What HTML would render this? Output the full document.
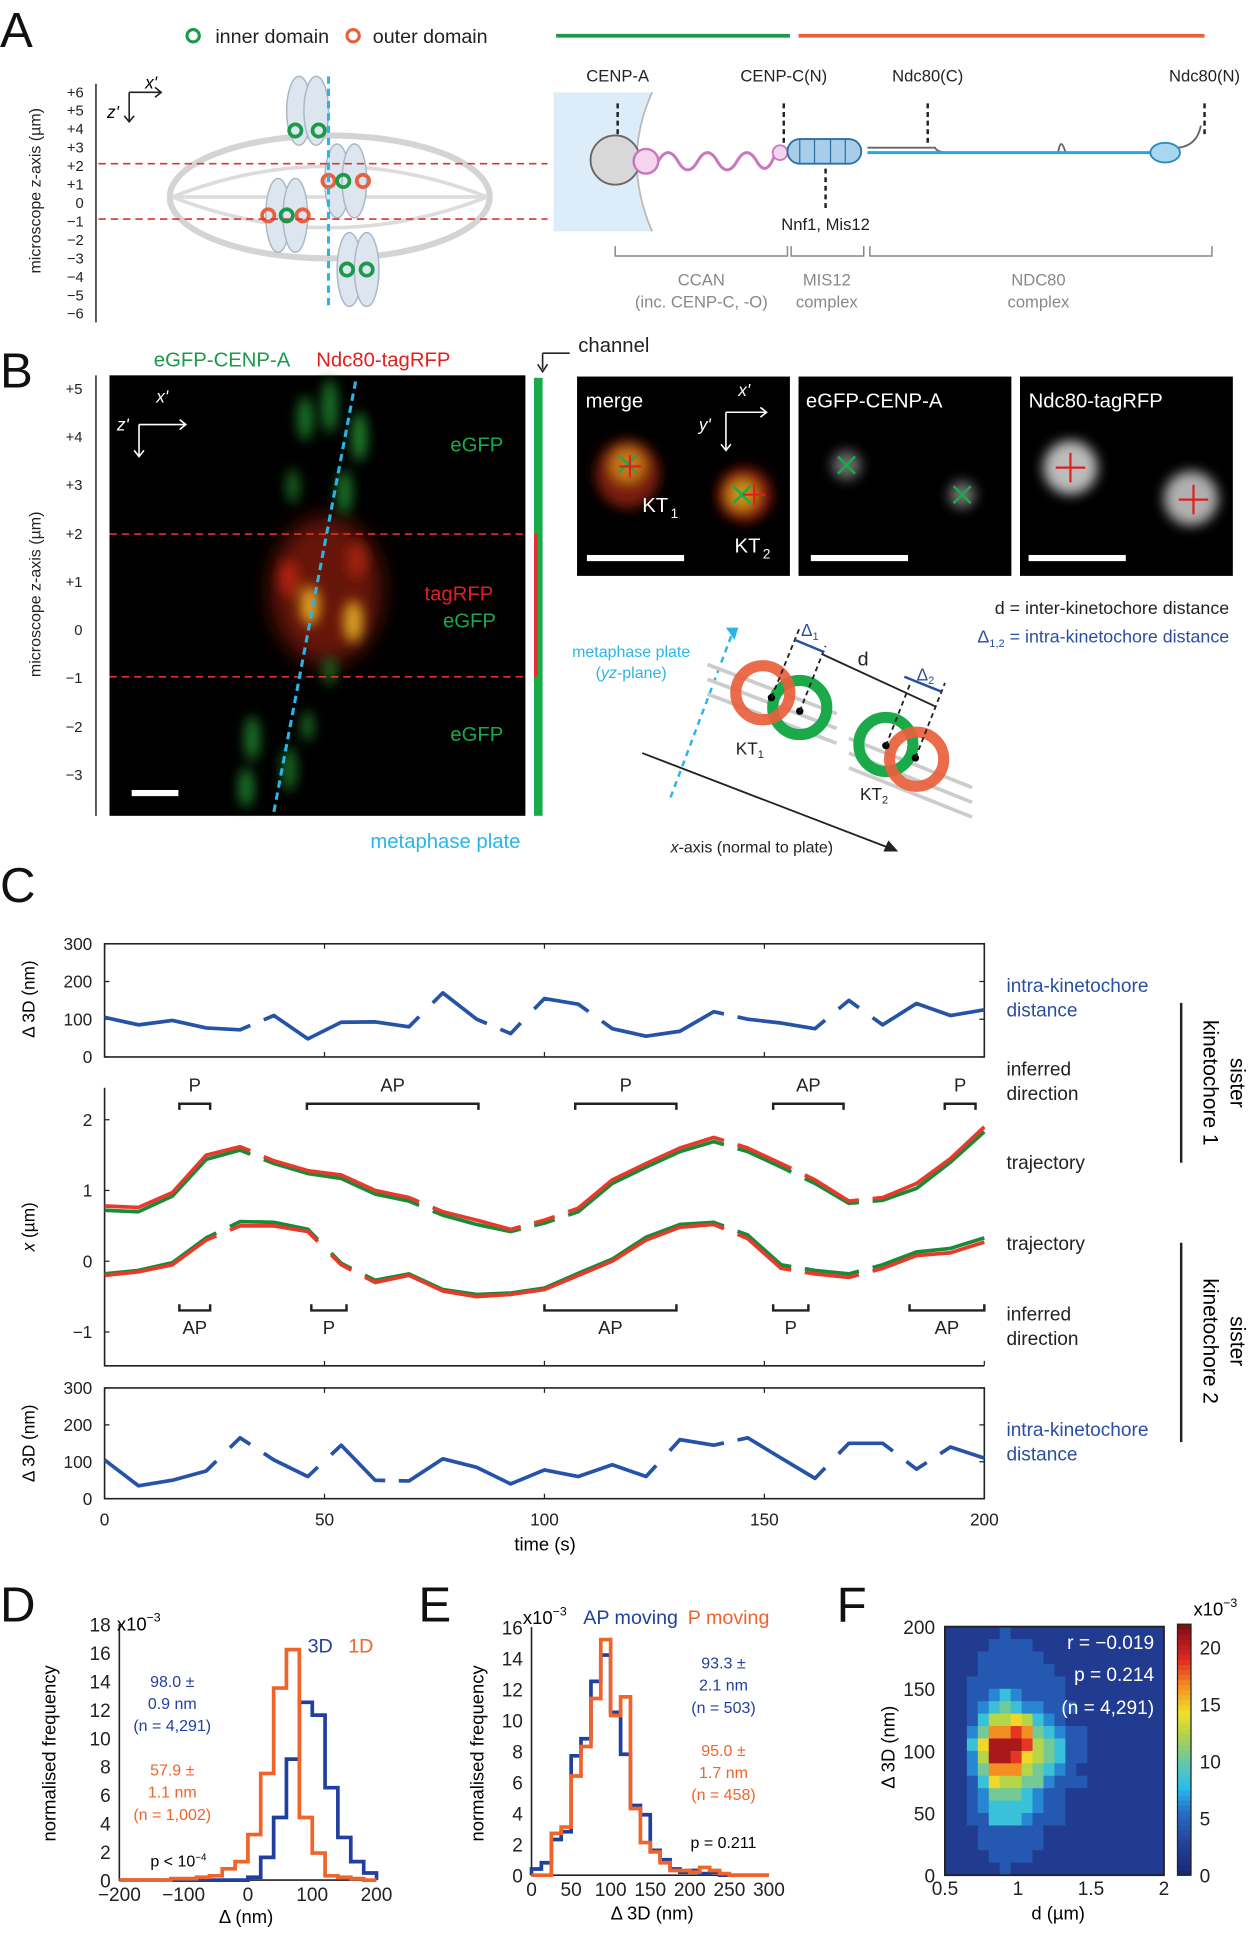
<!DOCTYPE html>
<html><head><meta charset="utf-8"><style>
html,body{margin:0;padding:0;background:#fff}
svg{display:block}
text{font-family:"Liberation Sans",sans-serif}
</style></head><body>
<svg id="fig" xmlns="http://www.w3.org/2000/svg" width="1255" height="1938" viewBox="0 0 1020 1575">
<defs>
<filter id="blur4" x="-50%" y="-50%" width="200%" height="200%"><feGaussianBlur stdDeviation="5"/></filter>
<filter id="blur8" x="-50%" y="-50%" width="200%" height="200%"><feGaussianBlur stdDeviation="9"/></filter>
</defs>
<rect width="1020" height="1575" fill="#fff"/>
<g font-size="40" fill="#111">
<text x="0" y="38">A</text><text x="0" y="315">B</text><text x="0" y="733">C</text>
<text x="0" y="1318">D</text><text x="340" y="1318">E</text><text x="680" y="1318">F</text>
</g>

<g>
<circle cx="157" cy="29" r="5" fill="none" stroke="#1a9a4a" stroke-width="2.5"/>
<text x="175" y="35" font-size="16" fill="#222">inner domain</text>
<circle cx="287" cy="29" r="5" fill="none" stroke="#e8603c" stroke-width="2.5"/>
<text x="303" y="35" font-size="16" fill="#222">outer domain</text>
<text x="33" y="155" font-size="13" fill="#222" text-anchor="middle" transform="rotate(-90 33 155)">microscope z-axis (µm)</text>
<line x1="78" y1="68" x2="78" y2="262" stroke="#222" stroke-width="1.2"/>
<g font-size="12" fill="#222" text-anchor="end">
<text x="68" y="79">+6</text><text x="68" y="94">+5</text><text x="68" y="109">+4</text><text x="68" y="124">+3</text><text x="68" y="139">+2</text><text x="68" y="154">+1</text><text x="68" y="169">0</text><text x="68" y="184">−1</text><text x="68" y="199">−2</text><text x="68" y="214">−3</text><text x="68" y="229">−4</text><text x="68" y="244">−5</text><text x="68" y="259">−6</text>
</g>
<path d="M105 75 H130 M126 71 L131 75 L126 79 M105 75 V98 M101 94 L105 99 L109 94" stroke="#222" stroke-width="1.3" fill="none"/>
<text x="118" y="72" font-size="14" font-style="italic">x'</text><text x="87" y="96" font-size="14" font-style="italic">z'</text>
<ellipse cx="268" cy="160" rx="130" ry="50" fill="none" stroke="#d4d4d4" stroke-width="5"/>
<path d="M140 160 Q268 110 396 160 M140 160 Q268 210 396 160 M140 160 H396" fill="none" stroke="#dcdcdc" stroke-width="3"/>
<g fill="#dde6ef" stroke="#a9b8c7" stroke-width="1.2">
<ellipse cx="243" cy="90" rx="10" ry="28"/><ellipse cx="257" cy="90" rx="10" ry="28"/>
<ellipse cx="274" cy="147" rx="10" ry="30"/><ellipse cx="288" cy="147" rx="10" ry="30"/>
<ellipse cx="226" cy="175" rx="10" ry="30"/><ellipse cx="240" cy="175" rx="10" ry="30"/>
<ellipse cx="284" cy="219" rx="10" ry="30"/><ellipse cx="298" cy="219" rx="10" ry="30"/>
</g>
<g fill="none" stroke-width="3">
<circle cx="240" cy="106" r="5" stroke="#1a9a4a"/><circle cx="259" cy="106" r="5" stroke="#1a9a4a"/>
<circle cx="267" cy="147" r="5" stroke="#e8603c"/><circle cx="279" cy="147" r="5" stroke="#1a9a4a"/><circle cx="295" cy="147" r="5" stroke="#e8603c"/>
<circle cx="218" cy="175" r="5" stroke="#e8603c"/><circle cx="233" cy="175" r="5" stroke="#1a9a4a"/><circle cx="246" cy="175" r="5" stroke="#e8603c"/>
<circle cx="282" cy="219" r="5" stroke="#1a9a4a"/><circle cx="298" cy="219" r="5" stroke="#1a9a4a"/>
</g>
<line x1="80" y1="133" x2="445" y2="133" stroke="#e03030" stroke-width="1.3" stroke-dasharray="6 4"/>
<line x1="80" y1="178" x2="445" y2="178" stroke="#e03030" stroke-width="1.3" stroke-dasharray="6 4"/>
<line x1="267" y1="62" x2="267" y2="252" stroke="#29b6e6" stroke-width="2.5" stroke-dasharray="6 4"/>
</g>

<g>
<line x1="452" y1="29" x2="642" y2="29" stroke="#1a9a4a" stroke-width="3"/>
<line x1="649" y1="29" x2="979" y2="29" stroke="#e8603c" stroke-width="3"/>
<g font-size="13.5" fill="#222" text-anchor="middle">
<text x="502" y="66">CENP-A</text><text x="637" y="66">CENP-C(N)</text><text x="754" y="66">Ndc80(C)</text><text x="979" y="66">Ndc80(N)</text><text x="671" y="187">Nnf1, Mis12</text>
</g>
<path d="M450 75 H530 Q505 130 530 188 H450 Z" fill="#dcecf8"/>
<path d="M530 75 Q505 130 530 188" fill="none" stroke="#bbb" stroke-width="1.5"/>
<circle cx="500" cy="130" r="20" fill="#d8d8d8" stroke="#666" stroke-width="1.5"/>
<circle cx="525" cy="131" r="10" fill="#f3d6ee" stroke="#c878be" stroke-width="2"/>
<path d="M535 131 q8 -14 16 0 t16 0 t16 0 t16 0 t16 0 t15 -6" fill="none" stroke="#c878be" stroke-width="2.5"/>
<circle cx="634" cy="124" r="6" fill="#f3d6ee" stroke="#c878be" stroke-width="1.5"/>
<rect x="640" y="113" width="60" height="20" rx="10" fill="#a8cde8" stroke="#2a6fa8" stroke-width="1.5"/>
<path d="M650 113 v20 M662 113 v20 M675 113 v20 M687 113 v20" stroke="#2a6fa8" stroke-width="1"/>
<path d="M705 120 H760 Q762 124 770 124 H860 q2 -14 6 0 H945" fill="none" stroke="#666" stroke-width="1.5"/>
<path d="M705 124 H945" stroke="#27a7df" stroke-width="2.5"/>
<ellipse cx="947" cy="124" rx="12" ry="8" fill="#a8d8f0" stroke="#2a8ac0" stroke-width="1.5"/>
<path d="M958 120 q15 -2 18 -18" fill="none" stroke="#666" stroke-width="1.5"/>
<g stroke="#222" stroke-width="2" stroke-dasharray="4 3"><line x1="502" y1="84" x2="502" y2="112"/><line x1="637" y1="84" x2="637" y2="118"/><line x1="754" y1="84" x2="754" y2="118"/><line x1="979" y1="84" x2="979" y2="112"/><line x1="671" y1="137" x2="671" y2="170"/></g>
<path d="M500 200 v8 H640 v-8 M643 200 v8 H702 v-8 M707 200 v8 H985 v-8" fill="none" stroke="#888" stroke-width="1.2"/>
<g font-size="13.5" fill="#888" text-anchor="middle">
<text x="570" y="232">CCAN</text><text x="570" y="250">(inc. CENP-C, -O)</text>
<text x="672" y="232">MIS12</text><text x="672" y="250">complex</text>
<text x="844" y="232">NDC80</text><text x="844" y="250">complex</text>
</g>
</g>

<g>
<text x="125" y="298" font-size="16.5" fill="#1a9a4a">eGFP-CENP-A</text>
<text x="257" y="298" font-size="16.5" fill="#e02020">Ndc80-tagRFP</text>
<text x="33" y="483" font-size="13" fill="#222" text-anchor="middle" transform="rotate(-90 33 483)">microscope z-axis (µm)</text>
<line x1="78" y1="305" x2="78" y2="663" stroke="#222" stroke-width="1.2"/>
<g font-size="12" fill="#222" text-anchor="end">
<text x="67" y="320">+5</text><text x="67" y="359">+4</text><text x="67" y="398">+3</text><text x="67" y="438">+2</text><text x="67" y="477">+1</text><text x="67" y="516">0</text><text x="67" y="555">−1</text><text x="67" y="595">−2</text><text x="67" y="634">−3</text>
</g>
<rect x="89" y="305" width="338" height="358" fill="#000"/>
<g filter="url(#blur8)" opacity="0.75">
<ellipse cx="265" cy="480" rx="45" ry="60" fill="#8a1a0a"/>
</g>
<g filter="url(#blur4)">
<ellipse cx="248" cy="340" rx="6" ry="18" fill="#1f7a2a"/><ellipse cx="268" cy="330" rx="6" ry="22" fill="#1f7a2a"/><ellipse cx="292" cy="355" rx="6" ry="20" fill="#22862e"/>
<ellipse cx="238" cy="395" rx="5" ry="14" fill="#1a6a24"/><ellipse cx="280" cy="400" rx="6" ry="18" fill="#1f7a2a"/>
<ellipse cx="252" cy="492" rx="8" ry="16" fill="#e0a020"/><ellipse cx="287" cy="505" rx="8" ry="17" fill="#d8a020"/>
<ellipse cx="235" cy="470" rx="8" ry="15" fill="#b02010"/><ellipse cx="290" cy="455" rx="8" ry="15" fill="#a02010"/>
<ellipse cx="268" cy="545" rx="5" ry="12" fill="#1a6a24"/>
<ellipse cx="205" cy="600" rx="6" ry="18" fill="#1f7a2a"/><ellipse cx="200" cy="640" rx="6" ry="16" fill="#1f7a2a"/><ellipse cx="235" cy="625" rx="6" ry="18" fill="#1a6a24"/><ellipse cx="250" cy="590" rx="5" ry="12" fill="#1a6a24"/>
</g>
<line x1="89" y1="434" x2="427" y2="434" stroke="#e03030" stroke-width="1.3" stroke-dasharray="6 4"/>
<line x1="89" y1="550" x2="427" y2="550" stroke="#e03030" stroke-width="1.3" stroke-dasharray="6 4"/>
<line x1="289" y1="310" x2="222" y2="663" stroke="#29b6e6" stroke-width="2.5" stroke-dasharray="6 4"/>
<path d="M113 345 H150 M146 341 L151 345 L146 349 M113 345 V370 M109 366 L113 371 L117 366" stroke="#fff" stroke-width="1.3" fill="none"/>
<text x="127" y="327" font-size="14" font-style="italic" fill="#fff">x'</text><text x="95" y="350" font-size="14" font-style="italic" fill="#fff">z'</text>
<g font-size="16.5"><text x="366" y="367" fill="#1aaa4a">eGFP</text><text x="345" y="488" fill="#e02020">tagRFP</text><text x="360" y="510" fill="#1aaa4a">eGFP</text><text x="366" y="602" fill="#1aaa4a">eGFP</text></g>
<rect x="107" y="642" width="38" height="5" fill="#fff"/>
<rect x="434" y="307" width="7" height="356" fill="#1aaa4a"/>
<rect x="434" y="434" width="3" height="116" fill="#e03030"/>
<path d="M441 287 H463 M441 287 V300 M437 296 L441 302 L445 296" stroke="#222" stroke-width="1.3" fill="none"/>
<text x="470" y="286" font-size="16.5" fill="#222">channel</text>
<text x="362" y="689" font-size="16.5" fill="#29b6e6" text-anchor="middle">metaphase plate</text>
</g>

<g>
<rect x="469" y="306" width="173" height="162" fill="#000"/>
<rect x="649" y="306" width="173" height="162" fill="#000"/>
<rect x="829" y="306" width="173" height="162" fill="#000"/>
<g filter="url(#blur4)">
<ellipse cx="510" cy="385" rx="26" ry="28" fill="#7a1a0a"/><ellipse cx="510" cy="378" rx="14" ry="14" fill="#c87818"/>
<ellipse cx="605" cy="402" rx="22" ry="22" fill="#901a0a"/><ellipse cx="603" cy="402" rx="12" ry="12" fill="#c89018"/>
<ellipse cx="688" cy="378" rx="12" ry="12" fill="#6a6a6a"/><ellipse cx="782" cy="402" rx="11" ry="11" fill="#707070"/>
<ellipse cx="870" cy="380" rx="22" ry="22" fill="#bcbcbc"/><ellipse cx="968" cy="405" rx="22" ry="22" fill="#b0b0b0"/>
</g>
<g stroke="#1aaa4a" stroke-width="2"><path d="M503 370 l14 14 M517 370 l-14 14 M596 395 l14 14 M610 395 l-14 14 M681 371 l14 14 M695 371 l-14 14 M775 395 l14 14 M789 395 l-14 14"/></g>
<g stroke="#e02020" stroke-width="1.8"><path d="M512 370 v18 M503 379 h18 M613 393 v18 M604 402 h18 M870 368 v24 M858 380 h24 M970 394 v24 M958 406 h24"/></g>
<g font-size="16.5" fill="#fff"><text x="476" y="331">merge</text><text x="655" y="331">eGFP-CENP-A</text><text x="836" y="331">Ndc80-tagRFP</text>
<text x="522" y="416">KT</text><text x="545" y="421" font-size="11">1</text><text x="597" y="449">KT</text><text x="620" y="454" font-size="11">2</text></g>
<path d="M590 335 H622 M618 331 L623 335 L618 339 M590 335 V365 M586 361 L590 366 L594 361" stroke="#fff" stroke-width="1.3" fill="none"/>
<text x="600" y="322" font-size="14" font-style="italic" fill="#fff">x'</text><text x="568" y="350" font-size="14" font-style="italic" fill="#fff">y'</text>
<rect x="477" y="451" width="79" height="5" fill="#fff"/><rect x="659" y="451" width="79" height="5" fill="#fff"/><rect x="836" y="451" width="79" height="5" fill="#fff"/>
</g>

<g>
<text x="999" y="499" font-size="14.5" fill="#222" text-anchor="end">d = inter-kinetochore distance</text>
<text x="999" y="522" font-size="14.5" fill="#2a4ea0" text-anchor="end">Δ<tspan font-size="9" dy="4">1,2</tspan><tspan dy="-4"> = intra-kinetochore distance</tspan></text>
<text x="513" y="534" font-size="13" fill="#29b6e6" text-anchor="middle">metaphase plate</text>
<text x="513" y="551" font-size="13" fill="#29b6e6" text-anchor="middle">(<tspan font-style="italic">yz</tspan>-plane)</text>
<line x1="545" y1="648" x2="595" y2="515" stroke="#29b6e6" stroke-width="2" stroke-dasharray="5 4"/>
<path d="M590 510 L600 510 L597 520 Z" fill="#29b6e6"/>
<g stroke="#ccc" stroke-width="3"><line x1="575" y1="540" x2="680" y2="580"/><line x1="575" y1="552" x2="680" y2="592"/><line x1="575" y1="564" x2="680" y2="604"/><line x1="690" y1="600" x2="790" y2="640"/><line x1="690" y1="612" x2="790" y2="652"/><line x1="690" y1="624" x2="790" y2="664"/></g>
<circle cx="650" cy="575" r="22" fill="none" stroke="#1aaa4a" stroke-width="9"/>
<circle cx="620" cy="563" r="22" fill="none" stroke="#e8603c" stroke-width="9" opacity="0.92"/>
<circle cx="720" cy="605" r="22" fill="none" stroke="#1aaa4a" stroke-width="9"/>
<circle cx="745" cy="617" r="22" fill="none" stroke="#e8603c" stroke-width="9" opacity="0.92"/>
<circle cx="650" cy="578" r="3" fill="#000"/><circle cx="627" cy="567" r="3" fill="#000"/><circle cx="720" cy="606" r="3" fill="#000"/><circle cx="744" cy="616" r="3" fill="#000"/>
<path d="M627 567 L650 510 M650 578 L671 525 M720 606 L740 555 M744 616 L768 555" stroke="#222" stroke-width="1.5" stroke-dasharray="4 3"/>
<path d="M646 520 L670 530 M735 550 L765 562" stroke="#2a4ea0" stroke-width="2"/>
<path d="M669 532 L760 574" stroke="#222" stroke-width="1.5"/>
<text x="651" y="517" font-size="14" fill="#2a4ea0">Δ<tspan font-size="9" dy="3">1</tspan></text>
<text x="745" y="553" font-size="14" fill="#2a4ea0">Δ<tspan font-size="9" dy="3">2</tspan></text>
<text x="697" y="541" font-size="16" fill="#222">d</text>
<text x="598" y="613" font-size="14" fill="#222">KT<tspan font-size="9" dy="3">1</tspan></text>
<text x="699" y="650" font-size="14" fill="#222">KT<tspan font-size="9" dy="3">2</tspan></text>
<line x1="522" y1="612" x2="725" y2="690" stroke="#222" stroke-width="1.5"/>
<path d="M730 692 L718 692 L722 683 Z" fill="#222"/>
<text x="545" y="693" font-size="13" fill="#222"><tspan font-style="italic">x</tspan>-axis (normal to plate)</text>
</g>

<g font-size="15.5">
<text x="818" y="806" fill="#2a4ea0">intra-kinetochore</text><text x="818" y="826" fill="#2a4ea0">distance</text>
<text x="818" y="874" fill="#222">inferred</text><text x="818" y="894" fill="#222">direction</text>
<text x="818" y="950" fill="#222">trajectory</text><text x="818" y="1016" fill="#222">trajectory</text>
<text x="818" y="1073" fill="#222">inferred</text><text x="818" y="1093" fill="#222">direction</text>
<text x="818" y="1167" fill="#2a4ea0">intra-kinetochore</text><text x="818" y="1187" fill="#2a4ea0">distance</text>
<line x1="960" y1="815" x2="960" y2="945" stroke="#222" stroke-width="2"/>
<line x1="960" y1="1010" x2="960" y2="1172" stroke="#222" stroke-width="2"/>
<text x="1000" y="880" font-size="17" text-anchor="middle" transform="rotate(90 1000 880)">sister</text>
<text x="978" y="880" font-size="17" text-anchor="middle" transform="rotate(90 978 880)">kinetochore 1</text>
<text x="1000" y="1090" font-size="17" text-anchor="middle" transform="rotate(90 1000 1090)">sister</text>
<text x="978" y="1090" font-size="17" text-anchor="middle" transform="rotate(90 978 1090)">kinetochore 2</text>
<text x="28" y="812" font-size="14" text-anchor="middle" transform="rotate(-90 28 812)">Δ 3D (nm)</text>
<text x="28" y="997" font-size="14" text-anchor="middle" transform="rotate(-90 28 997)"><tspan font-style="italic">x</tspan> (µm)</text>
<text x="28" y="1173" font-size="14" text-anchor="middle" transform="rotate(-90 28 1173)">Δ 3D (nm)</text>
<text x="443" y="1260" font-size="15" text-anchor="middle">time (s)</text>
</g>
<g id="charts"></g>

<g font-size="15">
<text x="95" y="1325" font-size="15">x10<tspan font-size="10" dy="-7">−3</tspan></text>
<text x="250" y="1343" fill="#2040a0" font-size="16">3D</text><text x="283" y="1343" fill="#f0642a" font-size="16">1D</text>
<g font-size="13" text-anchor="middle"><text x="140" y="1371" fill="#2040a0">98.0 ±</text><text x="140" y="1389" fill="#2040a0">0.9 nm</text><text x="140" y="1407" fill="#2040a0">(n = 4,291)</text>
<text x="140" y="1443" fill="#f0642a">57.9 ±</text><text x="140" y="1461" fill="#f0642a">1.1 nm</text><text x="140" y="1479" fill="#f0642a">(n = 1,002)</text>
<text x="145" y="1517">p &lt; 10<tspan font-size="8" dy="-5">−4</tspan></text></g>
<text x="45" y="1425" text-anchor="middle" transform="rotate(-90 45 1425)" font-size="15">normalised frequency</text>
<text x="200" y="1563" text-anchor="middle">Δ (nm)</text>
<text x="425" y="1320" font-size="15">x10<tspan font-size="10" dy="-7">−3</tspan></text>
<text x="474" y="1320" fill="#2040a0" font-size="16">AP moving</text><text x="559" y="1320" fill="#f0642a" font-size="16">P moving</text>
<g font-size="13" text-anchor="middle"><text x="588" y="1356" fill="#2040a0">93.3 ±</text><text x="588" y="1374" fill="#2040a0">2.1 nm</text><text x="588" y="1392" fill="#2040a0">(n = 503)</text>
<text x="588" y="1427" fill="#f0642a">95.0 ±</text><text x="588" y="1445" fill="#f0642a">1.7 nm</text><text x="588" y="1463" fill="#f0642a">(n = 458)</text>
<text x="588" y="1502">p = 0.211</text></g>
<text x="393" y="1425" text-anchor="middle" transform="rotate(-90 393 1425)" font-size="15">normalised frequency</text>
<text x="530" y="1560" text-anchor="middle">Δ 3D (nm)</text>
<text x="727" y="1420" text-anchor="middle" transform="rotate(-90 727 1420)">Δ 3D (nm)</text>
<text x="860" y="1560" text-anchor="middle">d (µm)</text>
<text x="970" y="1313" font-size="15">x10<tspan font-size="10" dy="-7">−3</tspan></text>
</g>
<g id="overlay"></g>
</svg>

<script>
// ---------- Panel C data ----------
const cTimes = [0,7.7,15.4,23.1,30.8,38.5,46.2,53.8,61.5,69.2,76.9,84.6,92.3,100,107.7,115.4,123.1,130.8,138.5,146.2,153.8,161.5,169.2,176.9,184.6,192.3,200];
const cTopDelta = [105,85,97,77,72,110,48,92,93,80,170,100,62,155,140,75,55,68,120,100,90,75,150,85,142,110,125];
const cTopBreaks = [4,9,11,12,14,18,21,22];
const cKt1Red = [0.78,0.76,0.97,1.5,1.62,1.42,1.28,1.22,1.0,0.9,0.7,0.58,0.45,0.58,0.75,1.15,1.38,1.6,1.75,1.6,1.38,1.15,0.85,0.9,1.1,1.45,1.9];
const cKt1Green = [0.72,0.7,0.92,1.44,1.57,1.38,1.24,1.17,0.95,0.85,0.65,0.52,0.42,0.54,0.7,1.1,1.33,1.55,1.69,1.55,1.33,1.1,0.82,0.86,1.03,1.4,1.83];
const cKt1Breaks = [4,9,12,13,18,20,22];
const cKt2Red = [-0.2,-0.15,-0.05,0.3,0.5,0.5,0.42,-0.05,-0.3,-0.2,-0.42,-0.5,-0.47,-0.4,-0.2,0.0,0.3,0.48,0.52,0.32,-0.1,-0.18,-0.23,-0.1,0.08,0.12,0.27];
const cKt2Green = [-0.18,-0.13,-0.02,0.33,0.56,0.55,0.45,-0.03,-0.27,-0.18,-0.4,-0.47,-0.45,-0.38,-0.17,0.03,0.34,0.52,0.55,0.37,-0.05,-0.13,-0.18,-0.05,0.13,0.18,0.33];
const cKt2Breaks = [3,6,7,18,20,22];
const cBotDelta = [105,35,50,75,165,105,60,145,50,48,108,85,40,78,60,92,60,160,145,165,110,55,150,150,80,140,110];
const cBotBreaks = [3,4,6,8,16,18,21,23,24];
const kt1Dir = [["P",17,24],["AP",46,85],["P",107,130],["AP",152,168],["P",191,198]];
const kt2Dir = [["AP",17,24],["P",47,55],["AP",100,130],["P",152,160],["AP",183,200]];
const timeTicks = [0,50,100,150,200];
const deltaTicks = [0,100,200,300];
const xTicks = [-1,0,1,2];
// ---------- Panel D data ----------
const dBinEdges = [-200,-180,-160,-140,-120,-100,-80,-60,-40,-20,0,20,40,60,80,100,120,140,160,180,200];
const d1D = [0,0,0,0,0.1,0.1,0.2,0.3,0.8,1.3,3.2,7.5,13.5,16.2,4.4,1.9,0.3,0.2,0.1,0];
const d3D = [0,0,0,0,0,0,0,0,0,0,0.2,1.6,4.4,8.5,12.5,11.6,6.5,3.0,1.3,0.5];
const dXTicks = [-200,-100,0,100,200];
const dYTicks = [0,2,4,6,8,10,12,14,16,18];
// ---------- Panel E data ----------
const eBinEdges = [0,12.5,25,37.5,50,62.5,75,87.5,100,112.5,125,137.5,150,162.5,175,187.5,200,212.5,225,237.5,250,262.5,275,287.5,300];
const eAP = [0.4,0.8,2.3,2.8,7.7,8.8,12.5,14.2,10.5,7.8,4.5,3.9,1.6,1.0,0.4,0.2,0.3,0.1,0.2,0,0,0,0,0];
const eP = [0,0,2.7,3.1,6.4,8.3,11.4,15.2,10.3,11.5,4.3,2.1,1.5,0.8,0.3,0.3,0.2,0.5,0.3,0.1,0,0,0,0];
const eXTicks = [0,50,100,150,200,250,300];
const eYTicks = [0,2,4,6,8,10,12,14,16];
// ---------- Panel F data ----------
const fRows = [
"00000100000000000000","00001111000000000000","00011111100000000000","00011111110000000000",
"00111111111000000000","00112321111000000000","00123432211100000000","00135565321000000000",
"00247787432110000000","00369998543110000000","00259986543110000000","00247775432100000000",
"00136554421110000000","00124443211000000000","00123333211000000000","00113332111000000000",
"00011111100000000000","00011111100000000000","00001111000000000000","00000100000000000000"];
const fDigitScale = 2.1;
const fBase = 2;
const fXTicks = [0.5,1,1.5,2];
const fYTicks = [0,50,100,150,200];
const fCbTicks = [0,5,10,15,20];

const NS = "http://www.w3.org/2000/svg";
const root = document.getElementById("charts");
function mk(tag, attrs, parent){const e=document.createElementNS(NS,tag);for(const k in attrs)e.setAttribute(k,attrs[k]);(parent||root).appendChild(e);return e;}
function txt(s,x,y,size,anchor,fill,parent){const t=mk("text",{x:x,y:y,"font-size":size,"text-anchor":anchor||"middle",fill:fill||"#222"},parent);t.textContent=s;return t;}

const tx = t => 85 + t*3.575;
const yTop = v => 859 - v*92/300;
const yMid = v => 1025 - v*57.5;
const yBot = v => 1218 - v*90/300;

function brokenLine(xs, ys, breaks, fx, fy, color, width, name){
  const g = mk("g",{});
  
  
  let d="";
  for(let i=0;i<xs.length;i++){
    const px=fx(xs[i]), py=fy(ys[i]);
    if(i===0){ d+=`M${px.toFixed(1)} ${py.toFixed(1)}`; continue; }
    const qx=fx(xs[i-1]), qy=fy(ys[i-1]);
    if(breaks.includes(i-1)){
      d+=` L${(qx+(px-qx)*0.3).toFixed(1)} ${(qy+(py-qy)*0.3).toFixed(1)} M${(qx+(px-qx)*0.7).toFixed(1)} ${(qy+(py-qy)*0.7).toFixed(1)}`;
    }
    d+=` L${px.toFixed(1)} ${py.toFixed(1)}`;
  }
  const p = mk("path",{d:d,fill:"none",stroke:color,"stroke-width":width,"stroke-linejoin":"round"},g);
  
  
}

const topFrame = mk("rect",{x:85,y:yTop(300),width:715,height:yTop(0)-yTop(300),fill:"none",stroke:"#222","stroke-width":1.3});


const botFrame = mk("rect",{x:85,y:yBot(300),width:715,height:yBot(0)-yBot(300),fill:"none",stroke:"#222","stroke-width":1.3});


const midAxes = mk("path",{d:"M85 884 V1110 H800",fill:"none",stroke:"#222","stroke-width":1.3});


deltaTicks.forEach(v=>{
  const a=txt(String(v),75,yTop(v)+5,14,"end");
  
  
  const b=txt(String(v),75,yBot(v)+5,14,"end");
  
  
  mk("path",{d:`M85 ${yTop(v)} h4 M800 ${yTop(v)} h-4 M85 ${yBot(v)} h4 M800 ${yBot(v)} h-4`,stroke:"#222"});
});
xTicks.forEach(v=>{
  const a=txt(v<0?"−"+Math.abs(v):String(v),75,yMid(v)+5,14,"end");
  
  
  mk("path",{d:`M85 ${yMid(v)} h4`,stroke:"#222"});
});
timeTicks.forEach(t=>{
  const a=txt(String(t),tx(t),1240,14);
  
  
  mk("path",{d:`M${tx(t)} ${yTop(0)} v-4 M${tx(t)} ${yTop(300)} v4 M${tx(t)} 1110 v-4 M${tx(t)} ${yBot(0)} v-4 M${tx(t)} ${yBot(300)} v4`,stroke:"#222"});
});
brokenLine(cTimes,cTopDelta,cTopBreaks,tx,yTop,"#2553a8",3,"kt1-intra-distance");
brokenLine(cTimes,cKt1Green,cKt1Breaks,tx,yMid,"#1a8a3a",3,"kt1-green-trajectory");
brokenLine(cTimes,cKt1Red,cKt1Breaks,tx,yMid,"#e83a2a",3,"kt1-red-trajectory");
brokenLine(cTimes,cKt2Green,cKt2Breaks,tx,yMid,"#1a8a3a",3,"kt2-green-trajectory");
brokenLine(cTimes,cKt2Red,cKt2Breaks,tx,yMid,"#e83a2a",3,"kt2-red-trajectory");
brokenLine(cTimes,cBotDelta,cBotBreaks,tx,yBot,"#2553a8",3,"kt2-intra-distance");
kt1Dir.forEach(([lab,a,b])=>{
  const p=mk("path",{d:`M${tx(a)} 902 v-5 H${tx(b)} v5`,fill:"none",stroke:"#222","stroke-width":2});
  
  
  const t=txt(lab,(tx(a)+tx(b))/2,887,15);
  
  
});
kt2Dir.forEach(([lab,a,b])=>{
  const p=mk("path",{d:`M${tx(a)} 1060 v5 H${tx(b)} v-5`,fill:"none",stroke:"#222","stroke-width":2});
  
  
  const t=txt(lab,(tx(a)+tx(b))/2,1084,15);
  
  
});

// ---- Panel D ----
const dx = v => 97 + (v+200)*209/400;
const dy = v => 1528 - v*11.56;
function stairs(edges, vals, fx, fy, color, name){
  let d=`M${fx(edges[0])} ${fy(0)}`;
  for(let i=0;i<vals.length;i++){ d+=` L${fx(edges[i]).toFixed(1)} ${fy(vals[i]).toFixed(1)} L${fx(edges[i+1]).toFixed(1)} ${fy(vals[i]).toFixed(1)}`; }
  d+=` L${fx(edges[edges.length-1])} ${fy(0)}`;
  const p=mk("path",{d:d,fill:"none",stroke:color,"stroke-width":3,"stroke-linejoin":"miter"});
  
  
}
const dAx=mk("path",{d:`M${dx(-200)} ${dy(18)} V${dy(0)} H${dx(200)}`,fill:"none",stroke:"#222","stroke-width":1.3});


dYTicks.forEach(v=>{const t=txt(String(v),90,dy(v)+6,15.5,"end");});
dXTicks.forEach(v=>{const t=txt(v<0?"−"+Math.abs(v):String(v),dx(v),1545,15.5);});
stairs(dBinEdges,d3D,dx,dy,"#2040a0","d-hist-3d");
stairs(dBinEdges,d1D,dx,dy,"#f0642a","d-hist-1d");

// ---- Panel E ----
const ex = v => 432 + v*193/300;
const ey = v => 1524 - v*12.6;
const eAx=mk("path",{d:`M${ex(0)} ${ey(16)} V${ey(0)} H${ex(300)}`,fill:"none",stroke:"#222","stroke-width":1.3});


eYTicks.forEach(v=>{const t=txt(String(v),425,ey(v)+6,15.5,"end");});
eXTicks.forEach(v=>{const t=txt(String(v),ex(v),1541,15.5);});
stairs(eBinEdges,eAP,ex,ey,"#2040a0","e-hist-ap");
stairs(eBinEdges,eP,ex,ey,"#f0642a","e-hist-p");

// ---- Panel F ----
const fx = v => 768 + (v-0.5)*178/1.5;
const fy = v => 1524 - v*202/200;
const cmapStops = [[0,[26,38,120]],[0.12,[34,66,150]],[0.25,[40,110,200]],[0.35,[40,190,235]],[0.45,[100,200,170]],[0.55,[170,210,80]],[0.65,[240,225,40]],[0.75,[245,150,35]],[0.87,[225,40,35]],[1,[130,15,20]]];
function cmap(v){
  v=Math.max(0,Math.min(1,v));
  for(let i=1;i<cmapStops.length;i++){
    const [a,ca]=cmapStops[i-1],[b,cb]=cmapStops[i];
    if(v<=b){const f=(v-a)/(b-a);return `rgb(${Math.round(ca[0]+(cb[0]-ca[0])*f)},${Math.round(ca[1]+(cb[1]-ca[1])*f)},${Math.round(ca[2]+(cb[2]-ca[2])*f)})`;}
  }
  return "rgb(130,15,20)";
}
const fBg=mk("rect",{x:fx(0.5),y:fy(200),width:fx(2)-fx(0.5),height:fy(0)-fy(200),fill:cmap(fBase/22)});


const nr=fRows.length, nc=fRows[0].length;
for(let r=0;r<nr;r++){for(let c=0;c<nc;c++){
  const v=fBase+(+fRows[r][c])*fDigitScale; const d0=0.5+c*1.5/nc, d1=0.5+(c+1)*1.5/nc, a1=200-r*200/nr, a0=200-(r+1)*200/nr;
  const cell=mk("rect",{x:fx(d0).toFixed(2),y:fy(a1).toFixed(2),width:(fx(d1)-fx(d0)+0.4).toFixed(2),height:(fy(a0)-fy(a1)+0.4).toFixed(2),fill:cmap(v/22)});
  
  
}}
const fAx=mk("rect",{x:fx(0.5),y:fy(200),width:fx(2)-fx(0.5),height:fy(0)-fy(200),fill:"none",stroke:"#222","stroke-width":1.5});


fYTicks.forEach(v=>{const t=txt(String(v),760,fy(v)+6,15.5,"end");});
fXTicks.forEach(v=>{const t=txt(String(v),fx(v),1540,15.5);});
for(let i=0;i<50;i++){
  const s=mk("rect",{x:957,y:(1524-(i+1)*204/50).toFixed(2),width:11,height:(204/50+0.5).toFixed(2),fill:cmap(i/49)});
  
  
}
const cbF=mk("rect",{x:957,y:1320,width:11,height:204,fill:"none",stroke:"#222"});


fCbTicks.forEach(v=>{const t=txt(String(v),975,1524-v*204/22+6,15.5,"start");});
const ov=document.getElementById("overlay");
const stats=["r = −0.019","p = 0.214","(n = 4,291)"];
const statY=[1340,1366,1393];
stats.forEach((s,i)=>{const t=txt(s,938,statY[i],15.5,"end","#fff",ov);});
</script>
</body></html>
